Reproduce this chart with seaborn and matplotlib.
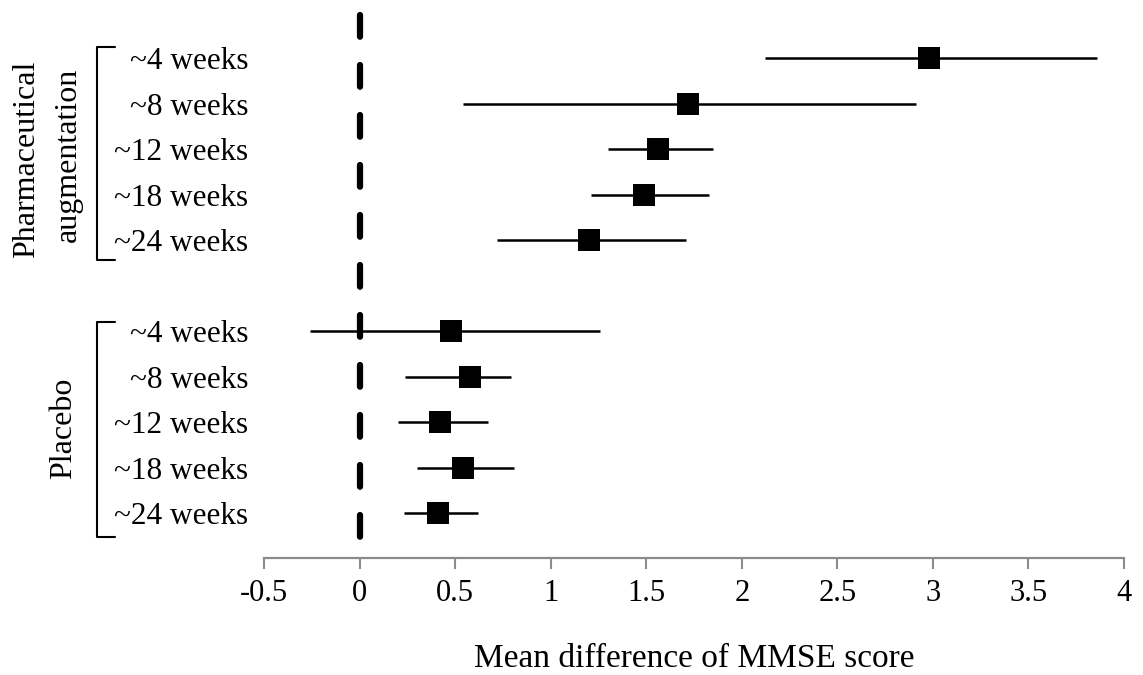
import matplotlib
matplotlib.use("Agg")
import matplotlib.pyplot as plt
import seaborn as sns
import pandas as pd
import numpy as np
from matplotlib.lines import Line2D

# ---- data ----
labels = ["~4 weeks", "~8 weeks", "~12 weeks", "~18 weeks", "~24 weeks",
          "~4 weeks", "~8 weeks", "~12 weeks", "~18 weeks", "~24 weeks"]
group_names = ["Pharmaceutical\naugmentation", "Placebo"]
groups = [group_names[0]] * 5 + [group_names[1]] * 5
means = [2.98, 1.72, 1.56, 1.49, 1.20, 0.48, 0.58, 0.42, 0.54, 0.41]
lower = [2.12, 0.54, 1.30, 1.21, 0.72, -0.26, 0.24, 0.20, 0.30, 0.23]
upper = [3.86, 2.91, 1.85, 1.83, 1.71, 1.26, 0.79, 0.67, 0.81, 0.62]
rows = [0, 1, 2, 3, 4, 6, 7, 8, 9, 10]
xticks = [-0.5, 0, 0.5, 1, 1.5, 2, 2.5, 3, 3.5, 4]
xticklabels = ["-0.5", "0", "0.5", "1", "1.5", "2", "2.5", "3", "3.5", "4"]
xlabel = "Mean difference of MMSE score"

df = pd.DataFrame({"label": labels, "group": groups, "mean": means,
                   "lo": lower, "hi": upper, "row": rows})

sns.set_theme(style="white")
plt.rcParams["font.family"] = ["Liberation Serif", "DejaVu Serif"]
plt.rcParams["text.color"] = "black"

W, H = 1143, 675
fig = plt.figure(figsize=(W / 100, H / 100), dpi=100)
ax = fig.add_axes([264 / W, 1 - 558 / H, 860 / W, (558 - 5) / H])

# dashed zero line
ax.plot([0, 0], [-0.945, 10.68], color="black", lw=4.5, dashes=(3.48, 4.52),
        dash_capstyle="round", zorder=1)

# CI lines
ax.hlines(df["row"], df["lo"], df["hi"], color="black", lw=1.8, zorder=2)
# point estimates
sns.scatterplot(data=df, x="mean", y="row", marker="s", s=260, color="black",
                edgecolor="black", linewidth=0, ax=ax, zorder=3, legend=False)

ax.set_xlim(-0.5, 4)
ax.set_ylim(10.989, -1.165)
ax.set_xticks(xticks)
ax.set_xticklabels(xticklabels, fontsize=22)
ax.set_yticks(df["row"])
ax.set_yticklabels(df["label"], fontsize=22.5)
ax.tick_params(axis="y", length=0, pad=11.5, labelcolor="black")
ax.tick_params(axis="x", direction="out", length=8, width=1.5, color="#8c8c8c",
               pad=7, bottom=True, labelcolor="black")
for s in ["top", "right", "left"]:
    ax.spines[s].set_visible(False)
ax.spines["bottom"].set_color("#8c8c8c")
ax.spines["bottom"].set_linewidth(1.6)
ax.set_xlabel("")
ax.set_ylabel("")

def px(x, y):
    return x / W, 1 - y / H

# x-axis title
tx, ty = px(694, 659)
fig.text(tx, ty, xlabel, ha="center", va="center", fontsize=24, color="black")

# brackets (figure pixel coords)
def bracket(y0, y1):
    xs = [115, 97, 97, 115]
    ys = [y0, y0, y1, y1]
    pts = [px(x, y) for x, y in zip(xs, ys)]
    fig.add_artist(Line2D([p[0] for p in pts], [p[1] for p in pts],
                          color="black", lw=1.5, transform=fig.transFigure))

bracket(47, 260)
bracket(322, 537)

line1, line2 = group_names[0].split("\n")
gx, gy = px(27, 159)
fig.text(gx, gy, line1, rotation=90, ha="center", va="center", fontsize=23)
gx, gy = px(68, 155)
fig.text(gx, gy, line2, rotation=90, ha="center", va="center", fontsize=23)
gx, gy = px(64, 428)
fig.text(gx, gy, group_names[1], rotation=90, ha="center", va="center", fontsize=23)

fig.savefig("out.png", dpi=100)
